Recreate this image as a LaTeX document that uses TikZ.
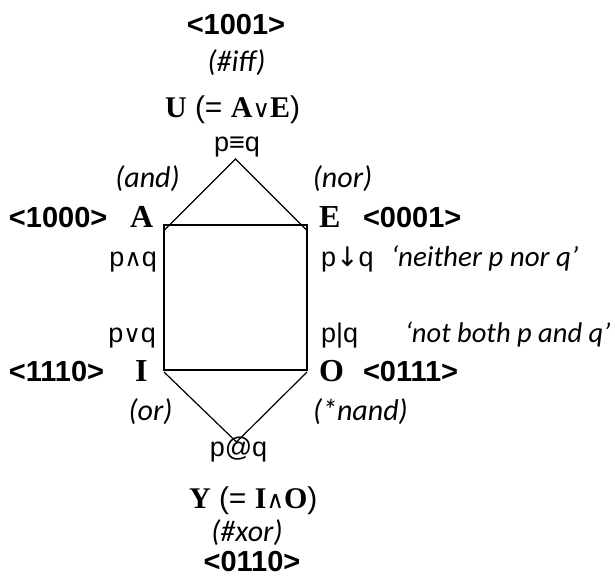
\documentclass[tikz,border=0pt]{standalone}
\usepackage{fontspec}
\setmainfont{Liberation Sans}
\newfontfamily\tnr{Liberation Serif}
\newfontfamily\carl{Carlito}
\newfontfamily\dvs{DejaVu Sans}
\newcommand\bl[1]{{\tnr\bfseries #1}}
\newcommand\sym[1]{{\dvs\fontsize{24}{24}\selectfont #1}}
\newcommand\arr[1]{{\dvs\fontsize{27}{27}\selectfont #1}}
\tikzset{
  every node/.style={inner sep=0pt, outer sep=0pt},
  code/.style={font=\fontsize{29}{29}\selectfont\bfseries},
  letter/.style={font=\fontsize{32}{32}\selectfont\tnr\bfseries},
  formula/.style={font=\fontsize{27}{27}\selectfont},
  gloss/.style={font=\fontsize{30}{30}\selectfont\carl\itshape},
  mixed/.style={font=\fontsize{30}{30}\selectfont},
  edge/.style={line width=1.2pt, line join=miter}
}
\begin{document}
\begin{tikzpicture}[x=1pt,y=-1pt]
\useasboundingbox (0,0) rectangle (615,578);
% text
\node[code, anchor=base] (c1001) at (236,35) {<1001>};
\node[gloss, anchor=base] (iff) at (236.5,71) {(\#iff)};
\node[mixed, anchor=base west] (U) at (165,117) {\bl{U} (= \bl{A}\sym{∨}\bl{E})};
\node[formula, anchor=base] (peq) at (237,151) {p≡q};
\node[gloss, anchor=base] (and) at (147.5,187) {(and)};
\node[gloss, anchor=base] (nor) at (342.5,187) {(nor)};
\node[code, anchor=base west] (c1000) at (9,227) {<1000>};
\node[letter, anchor=base west] (A) at (130,227) {A};
\node[letter, anchor=base west] (E) at (319,227) {E};
\node[code, anchor=base west] (c0001) at (363,227) {<0001>};
\node[formula, anchor=base east] (pand) at (157,266) {p\sym{∧}q};
\node[formula, anchor=base west] (pnor) at (321,266) {p\arr{↓}q};
\node[gloss, anchor=base west, font=\fontsize{29}{29}\selectfont\carl\itshape] (neither) at (391,266) {‘neither p nor q’};
\node[formula, anchor=base east] (por) at (156,342) {p\sym{∨}q};
\node[formula, anchor=base west] (pnand) at (321,342) {p|q};
\node[gloss, anchor=base west, font=\fontsize{28.5}{28.5}\selectfont\carl\itshape] (notboth) at (405,342) {‘not both p and q’};
\node[code, anchor=base west] (c1110) at (9,381) {<1110>};
\node[letter, anchor=base west] (I) at (135,381) {I};
\node[letter, anchor=base west] (O) at (319,381) {O};
\node[code, anchor=base west] (c0111) at (363,381) {<0111>};
\node[gloss, anchor=base] (or) at (150.5,420) {(or)};
\node[gloss, anchor=base west] (nand) at (313,420) {(*nand)};
\node[formula, anchor=base] (pxor) at (238.5,456) {p@q};
\node[mixed, anchor=base west] (Y) at (189,508) {\bl{Y} (= \bl{I}\sym{∧}\bl{O})};
\node[gloss, anchor=base] (xor) at (247,541) {(\#xor)};
\node[code, anchor=base] (c0110) at (252,571) {<0110>};
% shape
\coordinate (tl) at (164,225);
\coordinate (tr) at (307,225);
\coordinate (br) at (307,370);
\coordinate (bl) at (164,370);
\coordinate (tlc) at (164,230.5);
\coordinate (trc) at (307,230.5);
\coordinate (blc) at (164,372);
\coordinate (brc) at (307,372);
\coordinate (apexT) at (235.5,159);
\coordinate (apexB) at (236.5,442);
\draw[edge] (tl) -- (tr) -- (br) -- (bl) -- cycle;
\draw[edge] (tlc) -- (apexT) -- (trc);
\draw[edge] (blc) -- (apexB) -- (brc);
\end{tikzpicture}
\end{document}
